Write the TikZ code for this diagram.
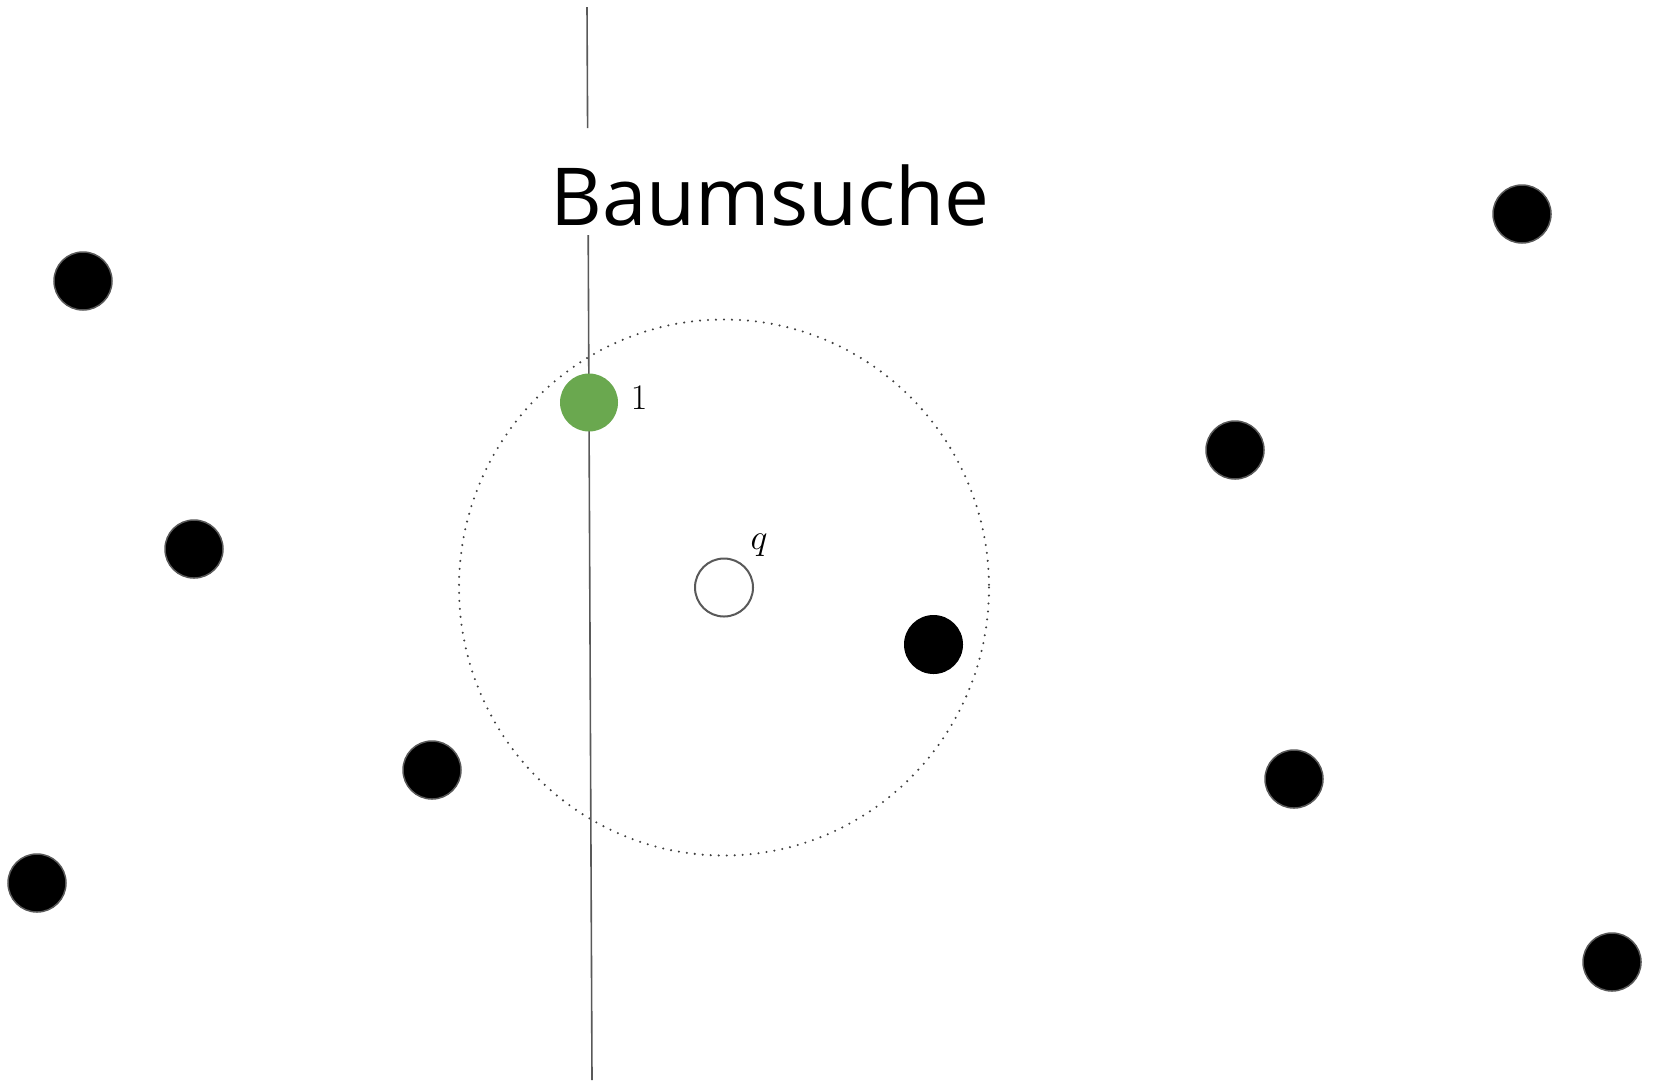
\documentclass[tikz,border=0pt]{standalone}
\usepackage{graphicx}
\usepackage{fontspec}
\newfontfamily\titlefont{Open Sans}
\begin{document}
\begin{tikzpicture}[x=1pt,y=-1pt,
  pt/.style={circle,fill=black,draw=black!65,line width=1.5pt,minimum size=58pt,inner sep=0pt},
  ptplain/.style={circle,fill=black,minimum size=59pt,inner sep=0pt},
  qpt/.style={circle,fill=white,draw=black!65,line width=2pt,minimum size=58pt,inner sep=0pt},
  lbl/.style={inner sep=0pt,font=\fontsize{24.88}{30}\selectfont},
  axis/.style={draw=black!65,line width=1.6pt}]
\useasboundingbox (0,0) rectangle (1661,1080);
\definecolor{ptgreen}{HTML}{6AA84F}
% dotted search circle
\draw[black!75,line width=2.3pt,dash pattern=on 0pt off 8pt,line cap=round] (724,587.5) ellipse [x radius=265,y radius=268];
% splitting line
\coordinate (l1) at (587,7);
\coordinate (l2) at (587.6,128);
\coordinate (l3) at (588.2,235);
\coordinate (l4) at (592,1080);
\draw[axis] (l1) -- (l2);
\draw[axis] (l3) -- (l4);
% title
\node[anchor=base west,inner sep=0pt,font=\titlefont\fontsize{80}{96}\selectfont] (title) at (550,225) {Baumsuche};
% points
\node[pt] (p1) at (83,281) {};
\node[pt] (p2) at (194,549) {};
\node[pt] (p3) at (432,770) {};
\node[pt] (p4) at (37,883) {};
\node[pt] (p5) at (1522,214) {};
\node[pt] (p6) at (1235,450) {};
\node[pt] (p7) at (1294,779) {};
\node[pt] (p8) at (1612,962) {};
\node[ptplain] (p9) at (933.5,644.5) {};
\node[circle,fill=ptgreen,minimum size=58pt,inner sep=0pt] (g) at (589,402.5) {};
\node[qpt] (q) at (724,587.5) {};
\node[lbl] (l1lbl) at (639,398) {\scalebox{1.447}{$1$}};
\node[lbl] (qlbl) at (759,545) {\scalebox{1.447}{$q$}};
\end{tikzpicture}
\end{document}
